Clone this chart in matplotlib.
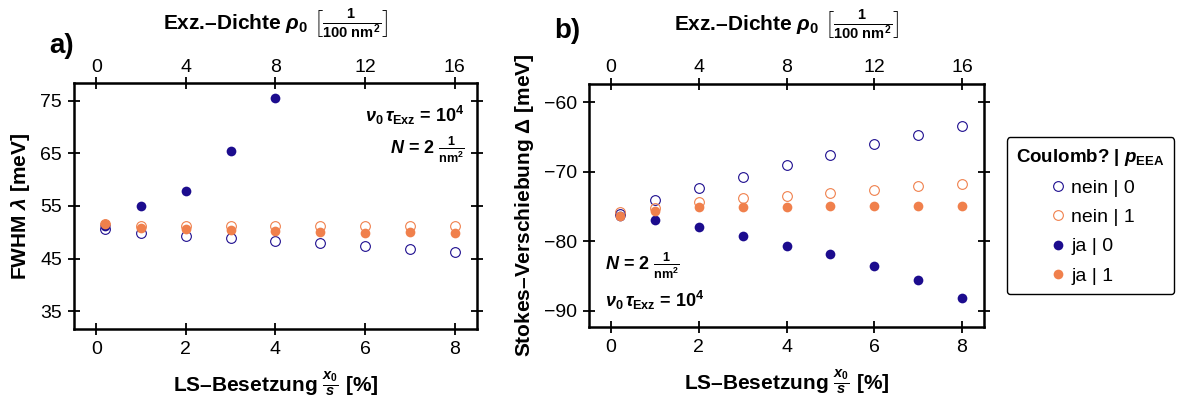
import numpy as np
import matplotlib
matplotlib.use('Agg')
import matplotlib.pyplot as plt

plt.rcParams['font.family'] = ['Liberation Sans', 'DejaVu Sans']
plt.rcParams['mathtext.fontset'] = 'custom'
plt.rcParams['mathtext.rm'] = 'Liberation Sans:bold'
plt.rcParams['mathtext.it'] = 'Liberation Sans:bold:italic'
plt.rcParams['mathtext.bf'] = 'Liberation Sans:bold'

# LS-Besetzung x0/s in %
x = [0.2, 1, 2, 3, 4, 5, 6, 7, 8]

# a) FWHM in meV
fwhm_nein0 = [50.7, 49.9, 49.3, 48.9, 48.4, 47.9, 47.4, 46.8, 46.3]
fwhm_nein1 = [51.5, 51.2, 51.2, 51.1, 51.2, 51.2, 51.2, 51.1, 51.1]
x_ja0_a = [0.2, 1, 2, 3, 4]
fwhm_ja0 = [51.2, 54.9, 57.9, 65.4, 75.4]
fwhm_ja1 = [51.5, 50.85, 50.7, 50.4, 50.2, 50.1, 49.9, 50.0, 49.85]

# b) Stokes-Verschiebung in meV
stokes_nein0 = [-76.0, -74.1, -72.3, -70.8, -69.1, -67.6, -66.0, -64.7, -63.4]
stokes_nein1 = [-75.8, -75.2, -74.4, -73.8, -73.5, -73.1, -72.6, -72.05, -71.8]
stokes_ja0 = [-76.4, -77.0, -77.9, -79.3, -80.6, -81.8, -83.5, -85.6, -88.1]
stokes_ja1 = [-76.4, -75.6, -75.1, -75.0, -75.0, -74.9, -74.9, -74.9, -74.9]

blue = '#1c0c8e'
orange = '#f0804c'

fig = plt.figure(figsize=(11.8, 4.16), dpi=100)
ax1 = fig.add_axes([0.0627, 0.209, 0.3415, 0.591])
ax2 = fig.add_axes([0.4992, 0.214, 0.3347, 0.584])

ms = 7

def draw(ax, x_open, y0, y1, xj0, yj0, yj1):
    ax.plot(x_open, y0, 'o', ls='none', ms=ms, mfc='none', mec=blue, mew=0.8, label='nein | 0')
    ax.plot(x_open, y1, 'o', ls='none', ms=ms, mfc='none', mec=orange, mew=0.8, label='nein | 1')
    ax.plot(xj0, yj0, 'o', ls='none', ms=ms, color=blue, mew=0, label='ja | 0')
    ax.plot(x_open, yj1, 'o', ls='none', ms=ms, color=orange, mew=0, label='ja | 1')

draw(ax1, x, fwhm_nein0, fwhm_nein1, x_ja0_a, fwhm_ja0, fwhm_ja1)
draw(ax2, x, stokes_nein0, stokes_nein1, x, stokes_ja0, stokes_ja1)

ax1.set_ylim(31.6, 78.3)
ax1.set_yticks([35, 45, 55, 65, 75])
ax2.set_ylim(-92.3, -57.4)
ax2.set_yticks([-90, -80, -70, -60])

for ax in (ax1, ax2):
    ax.set_xlim(-0.5, 8.5)
    ax.set_xticks([0, 2, 4, 6, 8])
    ax.tick_params(direction='inout', length=9, width=1.3, labelsize=14,
                   right=True, top=False, pad=4)
    for s in ax.spines.values():
        s.set_linewidth(1.8)
    ax.set_xlabel(r'LS–Besetzung $\frac{x_0}{s}$ [%]', fontsize=15, fontweight='bold', labelpad=8)
    sec = ax.secondary_xaxis('top', functions=(lambda v: 2 * v, lambda v: v / 2))
    sec.set_xticks([0, 4, 8, 12, 16])
    sec.tick_params(direction='inout', length=9, width=1.3, labelsize=14, pad=1)
    sec.set_xlabel(r'Exz.–Dichte $\rho_0$ $\left[\frac{1}{100\ \mathrm{nm}^2}\right]$',
                   fontsize=15, fontweight='bold', labelpad=21)

ax1.set_ylabel(r'FWHM $\lambda$ [meV]', fontsize=15, fontweight='bold', labelpad=6)
ax2.set_ylabel(r'Stokes–Verschiebung $\Delta$ [meV]', fontsize=15, fontweight='bold', labelpad=6)

ax1.text(0.97, 0.87, r'$\nu_0\,\tau_{\mathrm{Exz}}$ = 10$^4$', transform=ax1.transAxes,
         ha='right', va='center', fontsize=13, fontweight='bold')
ax1.text(0.97, 0.73, r'$N$ = 2 $\frac{1}{\mathrm{nm}^2}$', transform=ax1.transAxes,
         ha='right', va='center', fontsize=13, fontweight='bold')
ax2.text(0.04, 0.25, r'$N$ = 2 $\frac{1}{\mathrm{nm}^2}$', transform=ax2.transAxes,
         ha='left', va='center', fontsize=13, fontweight='bold')
ax2.text(0.04, 0.11, r'$\nu_0\,\tau_{\mathrm{Exz}}$ = 10$^4$', transform=ax2.transAxes,
         ha='left', va='center', fontsize=13, fontweight='bold')

fig.text(0.042, 0.89, 'a)', fontsize=20, fontweight='bold', ha='left', va='center')
fig.text(0.470, 0.925, 'b)', fontsize=20, fontweight='bold', ha='left', va='center')

handles, labels = ax2.get_legend_handles_labels()
leg = fig.legend(handles, labels, loc='upper left', bbox_to_anchor=(0.853, 0.671),
                 borderaxespad=0, title=r'Coulomb? | $p_{\mathrm{EEA}}$',
                 fontsize=14, frameon=True, handletextpad=0.1, handlelength=1.2,
                 labelspacing=0.6, fancybox=True, borderpad=0.5)
leg.get_title().set_fontweight('bold')
leg.get_title().set_fontsize(13.5)
leg.get_frame().set_edgecolor('black')
leg.get_frame().set_linewidth(1.0)
leg.get_frame().set_alpha(1)

fig.savefig('out.png', dpi=100)
